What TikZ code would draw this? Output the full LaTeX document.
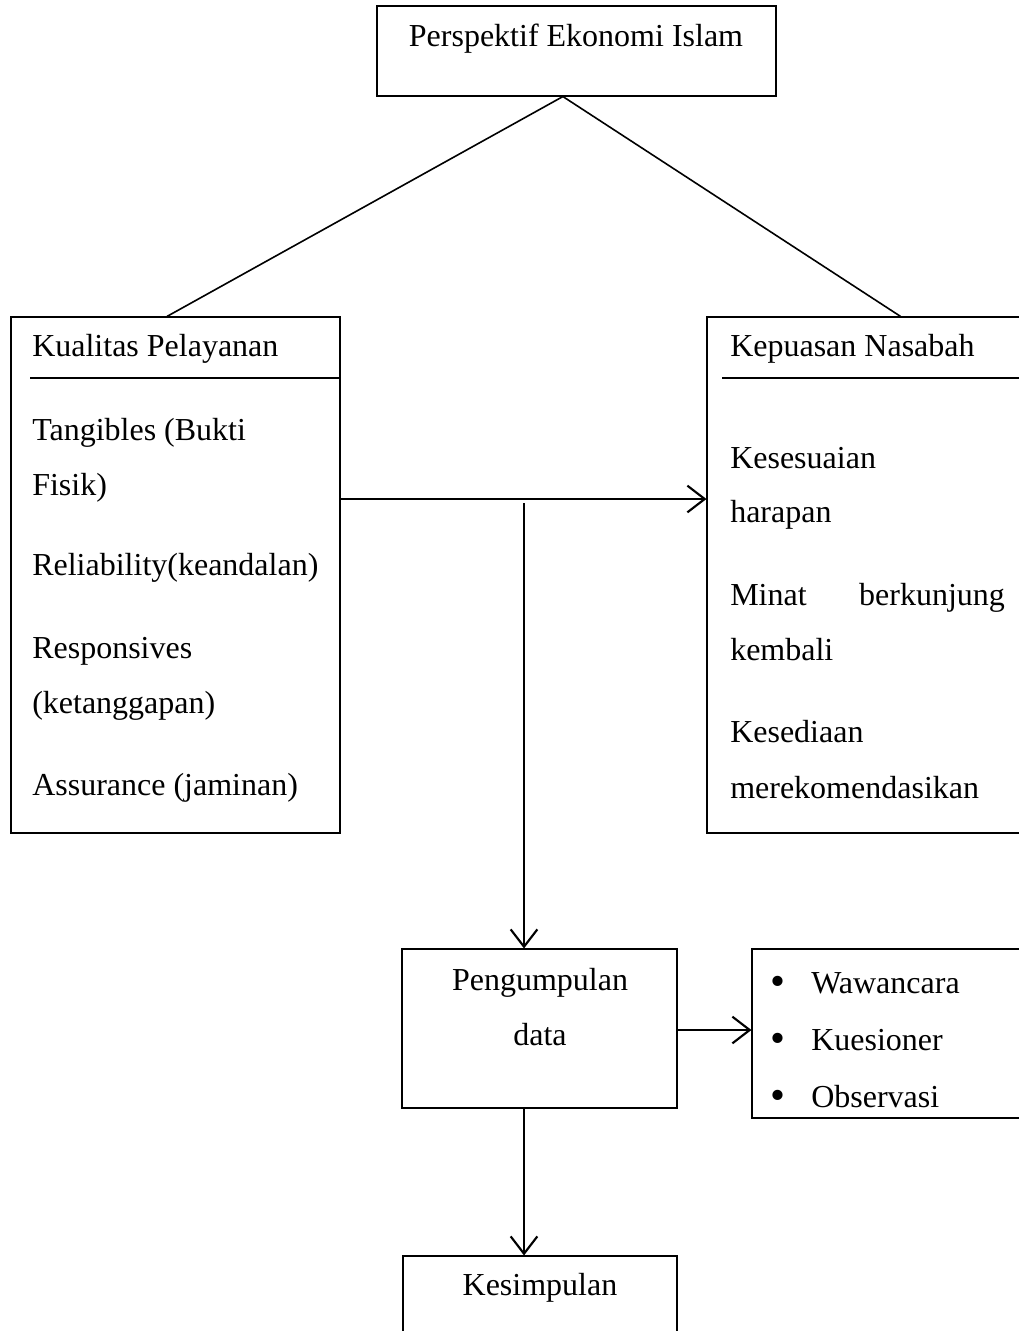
\documentclass[tikz,border=0pt]{standalone}
\usepackage{fontspec}
\setmainfont{Liberation Serif}
\usetikzlibrary{arrows.meta,fit,calc}
\tikzset{
  box/.style={draw, line width=0.8pt, inner sep=0pt},
  txt/.style={inner sep=0pt, anchor=base west, font=\fontsize{24}{28}\selectfont},
  ctxt/.style={inner sep=0pt, anchor=base, font=\fontsize{24}{28}\selectfont},
  bul/.style={inner sep=0pt, anchor=base, font=\fontsize{32}{36}\selectfont},
  link/.style={line width=1.2pt},
  arr/.style={line width=1.6pt, -{Straight Barb[length=13pt,width=20pt,line width=1.6pt]}}
}
\begin{document}
\begin{tikzpicture}[x=0.75pt,y=-0.75pt]
\useasboundingbox (0,0) rectangle (1019,1331);
\clip (0,0) rectangle (1019,1331);
% boxes
\node[box, fit={(377,6) (776,96)}] (top) {};
\node[box, fit={(11,317) (340,833)}] (kual) {};
\node[box, fit={(707,317) (1035,833)}] (kep) {};
\node[box, fit={(402,949) (677,1108)}] (peng) {};
\node[box, fit={(752,949) (1035,1118)}] (list) {};
\node[box, fit={(403,1256) (677,1350)}] (kes) {};
% header lines
\coordinate (hl1) at (30,378);
\coordinate (hl2) at (722,378);
\draw[line width=1.2pt] (hl1) -- (hl1 -| kual.east);
\draw[line width=1.2pt] (hl2) -- (hl2 -| kep.east);
% texts
\node[ctxt] (ttop) at (576,47) {Perspektif Ekonomi Islam};
\node[txt] (tk0) at (32,356) {Kualitas Pelayanan};
\node[txt] (tk1) at (32,440) {Tangibles (Bukti};
\node[txt] (tk2) at (32,495) {Fisik)};
\node[txt] (tk3) at (32,575) {Reliability(keandalan)};
\node[txt] (tk4) at (32,658) {Responsives};
\node[txt] (tk5) at (32,713) {(ketanggapan)};
\node[txt] (tk6) at (32,795) {Assurance (jaminan)};
\node[txt] (tp0) at (730,356) {Kepuasan Nasabah};
\node[txt] (tp1) at (730,468) {Kesesuaian};
\node[txt] (tp2) at (730,522) {harapan};
\node[txt] (tp3) at (730,605) {\hbox to 206pt{Minat\hfill berkunjung}};
\node[txt] (tp4) at (730,660) {kembali};
\node[txt] (tp5) at (730,742) {Kesediaan};
\node[txt] (tp6) at (730,798) {merekomendasikan};
\node[ctxt] (tg1) at (540,990) {Pengumpulan};
\node[ctxt] (tg2) at (540,1045) {data};
\node[bul] (b1) at (778,995) {•};
\node[bul] (b2) at (778,1052) {•};
\node[bul] (b3) at (778,1109) {•};
\node[txt] (tl1) at (811,993) {Wawancara};
\node[txt] (tl2) at (811,1050) {Kuesioner};
\node[txt] (tl3) at (811,1107) {Observasi};
\node[ctxt] (tks) at (540,1295) {Kesimpulan};
% connectors
\coordinate (apex) at ($(top.south west)!0.466!(top.south east)$);
\draw[link] (apex) -- ($(kual.north west)!0.474!(kual.north east)$);
\draw[link] (apex) -- ($(kep.north west)!0.59!(kep.north east)$);
\coordinate (hy) at (0,499);
\draw[arr] (kual.east |- hy) -- (kep.west |- hy);
\coordinate (vs) at (524,503);
\draw[arr] (vs) -- (vs |- peng.north);
\coordinate (ly) at (0,1030);
\draw[arr] (peng.east |- ly) -- (list.west |- ly);
\draw[arr] (peng.south -| vs) -- (kes.north -| vs);
\end{tikzpicture}
\end{document}
